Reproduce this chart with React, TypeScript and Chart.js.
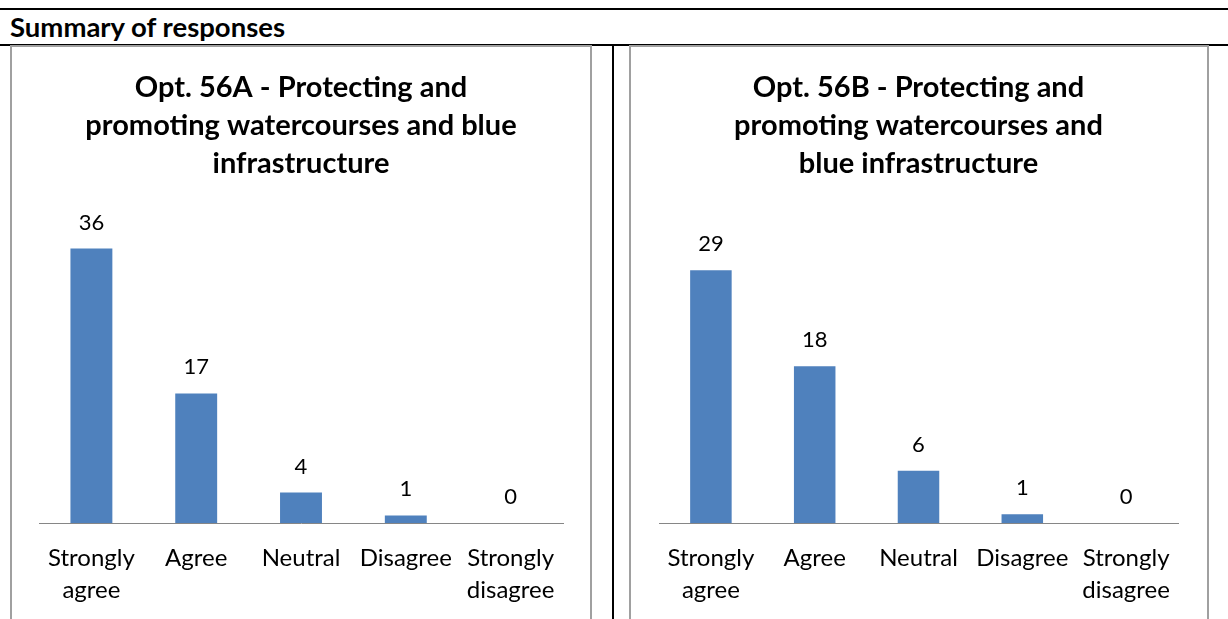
import React, { useEffect, useRef } from "react";
import { Chart, registerables } from "chart.js";

Chart.register(...registerables);

const categories: (string | string[])[] = [
  ["Strongly", "agree"],
  "Agree",
  "Neutral",
  "Disagree",
  ["Strongly", "disagree"],
];
const valuesA: number[] = [36, 17, 4, 1, 0];
const valuesB: number[] = [29, 18, 6, 1, 0];
const titleA: string[] = ["Opt. 56A - Protecting and", "promoting watercourses and blue", "infrastructure"];
const titleB: string[] = ["Opt. 56B - Protecting and", "promoting watercourses and", "blue infrastructure"];
const maxA = 40;
const maxB = 35;
const headerText = "Summary of responses";

const FONT = "Lato, 'Open Sans', sans-serif";
const BAR_COLOR = "#4F81BD";

const dataLabelPlugin = {
  id: "dataLabels",
  afterDatasetsDraw(chart: any) {
    const ctx = chart.ctx;
    const meta = chart.getDatasetMeta(0);
    const data = chart.data.datasets[0].data;
    ctx.save();
    ctx.font = `22px ${FONT}`;
    ctx.fillStyle = "#000";
    ctx.textAlign = "center";
    ctx.textBaseline = "middle";
    meta.data.forEach((bar: any, i: number) => {
      ctx.fillText(String(data[i]), bar.x, bar.y - 26);
    });
    ctx.restore();
  },
};

function BarChart(props: {
  values: number[];
  title: string[];
  max: number;
  width: number;
  height: number;
  padLeft: number;
  padRight: number;
}) {
  const ref = useRef<HTMLCanvasElement | null>(null);
  useEffect(() => {
    if (!ref.current) return;
    const chart = new Chart(ref.current, {
      type: "bar",
      data: {
        labels: categories,
        datasets: [
          {
            data: props.values,
            backgroundColor: BAR_COLOR,
            barPercentage: 0.4,
            categoryPercentage: 1,
          },
        ],
      },
      options: {
        animation: false,
        responsive: false,
        maintainAspectRatio: false,
        layout: { padding: { left: props.padLeft, right: props.padRight, top: 0, bottom: 0 } },
        plugins: {
          legend: { display: false },
          tooltip: { enabled: false },
          title: {
            display: true,
            text: props.title,
            color: "#000",
            font: { family: FONT, size: 29, weight: "bold", lineHeight: "38px" },
            padding: { top: 22, bottom: 35 },
          },
        },
        scales: {
          x: {
            grid: { display: false },
            border: { display: true, color: "#868686", width: 1 },
            ticks: {
              color: "#000",
              font: { family: FONT, size: 24, lineHeight: "32px" },
              padding: 11,
              maxRotation: 0,
              autoSkip: false,
            },
            afterFit: (scale: any) => {
              scale.height = 96;
            },
          },
          y: {
            display: false,
            min: 0,
            max: props.max,
          },
        },
      },
      plugins: [dataLabelPlugin],
    });
    return () => chart.destroy();
  }, []);
  return (
    <canvas
      ref={ref}
      width={props.width}
      height={props.height}
      style={{ width: props.width, height: props.height, display: "block" }}
    />
  );
}

export default function App() {
  return (
    <div
      style={{
        position: "absolute",
        left: 0,
        top: 0,
        width: 1228,
        height: 619,
        overflow: "hidden",
        background: "#fff",
        fontFamily: FONT,
      }}
    >
      <div style={{ position: "absolute", left: 0, top: 8, width: 1228, height: 2, background: "#000" }} />
      <div
        style={{
          position: "absolute",
          left: 10,
          top: 13,
          fontWeight: "bold",
          fontSize: 27.5,
          lineHeight: "28px",
          color: "#000",
          whiteSpace: "nowrap",
        }}
      >
        {headerText}
      </div>
      <div style={{ position: "absolute", left: 0, top: 44, width: 1228, height: 2, background: "#000" }} />
      <div
        style={{
          position: "absolute",
          left: 10,
          top: 45,
          width: 582,
          height: 600,
          border: "2px solid #a0a0a0",
          boxSizing: "border-box",
        }}
      />
      <div style={{ position: "absolute", left: 612, top: 45, width: 2, height: 600, background: "#000" }} />
      <div
        style={{
          position: "absolute",
          left: 629,
          top: 45,
          width: 580,
          height: 600,
          border: "2px solid #a0a0a0",
          boxSizing: "border-box",
        }}
      />
      <div style={{ position: "absolute", left: 12, top: 47 }}>
        <BarChart values={valuesA} title={titleA} max={maxA} width={578} height={572} padLeft={27} padRight={27} />
      </div>
      <div style={{ position: "absolute", left: 631, top: 47 }}>
        <BarChart values={valuesB} title={titleB} max={maxB} width={576} height={572} padLeft={28} padRight={29} />
      </div>
    </div>
  );
}
